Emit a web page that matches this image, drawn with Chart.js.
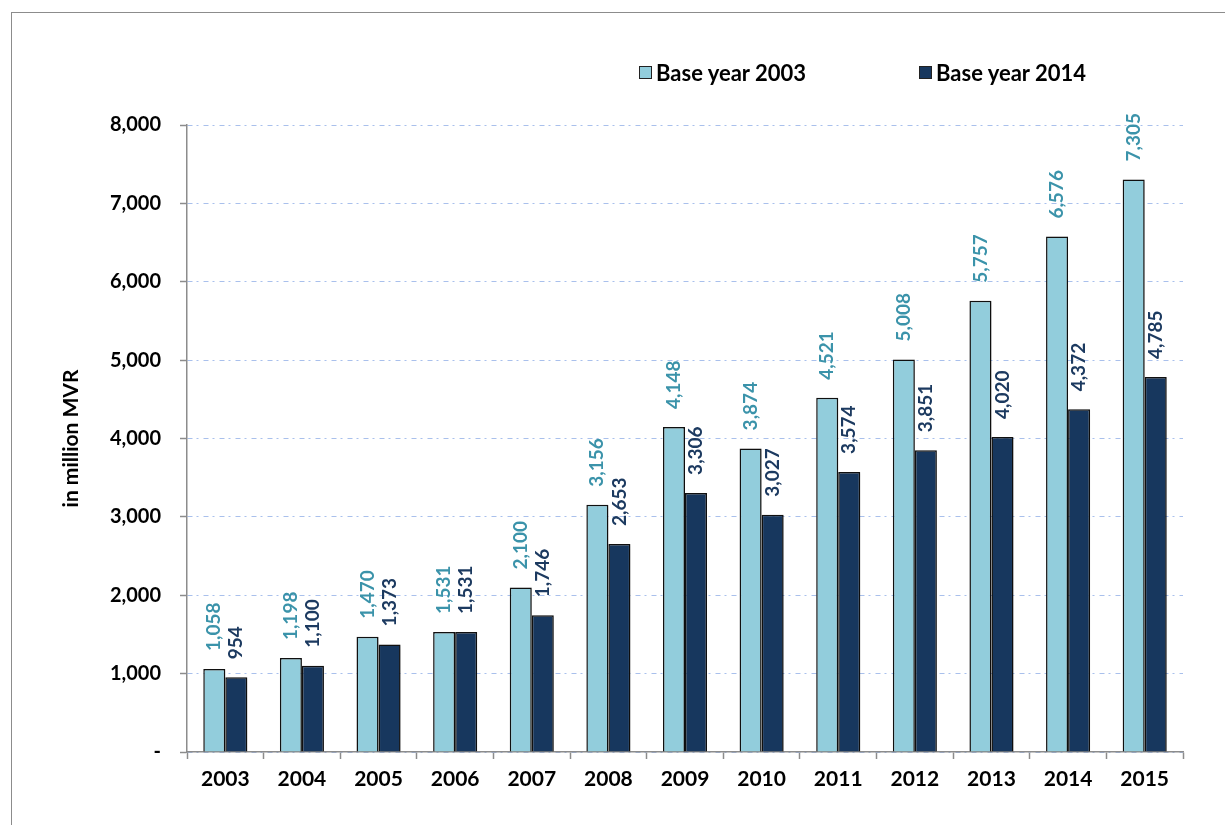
<!DOCTYPE html>
<html>
<head>
<meta charset="utf-8">
<script src="https://cdn.jsdelivr.net/npm/chart.js@4/dist/chart.umd.min.js"></script>
<style>
    html, body { margin: 0; padding: 0; background: #fff; }
    #wrap { position: relative; width: 1225px; height: 825px; overflow: hidden; }
    #frame {
        position: absolute; left: 11px; top: 12px; width: 1300px; height: 900px;
        border-left: 1px solid #8c8c8c; border-top: 1px solid #8c8c8c;
    }
    canvas { position: absolute; left: 0; top: 0; }
    .legend {
        position: absolute; top: 59px; height: 26px;
        font: bold 22px Lato, sans-serif; color: #000;
        display: flex; align-items: center; white-space: nowrap;
    }
    .legend .box {
        display: inline-block; width: 11px; height: 11px; margin-right: 4px;
        border: 1px solid #222;
    }
</style>
</head>
<body>
<div id="wrap">
    <div id="frame"></div>
    <canvas id="chart" width="1225" height="825"></canvas>
    <div class="legend" id="leg1" style="left:639px"><span class="box"></span><span class="txt"></span></div>
    <div class="legend" id="leg2" style="left:919px"><span class="box"></span><span class="txt"></span></div>
</div>
<script>
// Nominal values, in million MVR
const years = ['2003', '2004', '2005', '2006', '2007', '2008', '2009', '2010', '2011', '2012', '2013', '2014', '2015'];
const base2003 = [1058, 1198, 1470, 1531, 2100, 3156, 4148, 3874, 4521, 5008, 5757, 6576, 7305];
const base2014 = [954, 1100, 1373, 1531, 1746, 2653, 3306, 3027, 3574, 3851, 4020, 4372, 4785];
const seriesNames = ['Base year 2003', 'Base year 2014'];
const yTicks = [0, 1000, 2000, 3000, 4000, 5000, 6000, 7000, 8000];

const LIGHT = '#92cddc';
const DARK = '#17375e';
const LABEL_COLORS = ['#3b93aa', '#1c3a60'];
const FONT = 'Lato, sans-serif';

// html legend
[[ 'leg1', LIGHT ], [ 'leg2', DARK ]].forEach(([id, color], i) => {
    const el = document.getElementById(id);
    el.querySelector('.box').style.background = color;
    el.querySelector('.txt').innerText = seriesNames[i];
});

const fmt = v => v.toLocaleString('en-US');

// vertical value labels above each bar
const barLabels = {
    id: 'barLabels',
    afterDatasetsDraw(chart) {
        const ctx = chart.ctx;
        ctx.save();
        ctx.font = 'bold 19px ' + FONT;
        ctx.textAlign = 'left';
        ctx.textBaseline = 'middle';
        chart.data.datasets.forEach((ds, di) => {
            const meta = chart.getDatasetMeta(di);
            ctx.fillStyle = LABEL_COLORS[di];
            meta.data.forEach((bar, i) => {
                ctx.save();
                ctx.translate(bar.x, bar.y - 18);
                ctx.rotate(-Math.PI / 2);
                ctx.fillText(fmt(ds.data[i]), 0, 0);
                ctx.restore();
            });
        });
        ctx.restore();
    }
};

// soft shadow on bars
const barShadow = {
    id: 'barShadow',
    beforeDatasetsDraw(chart) {
        const ctx = chart.ctx;
        ctx.save();
        ctx.shadowColor = 'rgba(0,0,0,0.22)';
        ctx.shadowBlur = 3;
        ctx.shadowOffsetX = 2;
        ctx.shadowOffsetY = 1;
    },
    afterDatasetsDraw(chart) {
        chart.ctx.restore();
    }
};

new Chart(document.getElementById('chart'), {
    type: 'bar',
    data: {
        labels: years,
        datasets: [
            {
                label: seriesNames[0],
                data: base2003,
                backgroundColor: LIGHT,
                borderColor: '#111',
                borderWidth: 1.5,
                categoryPercentage: 0.575,
                barPercentage: 1
            },
            {
                label: seriesNames[1],
                data: base2014,
                backgroundColor: DARK,
                borderColor: '#111',
                borderWidth: 1.5,
                categoryPercentage: 0.575,
                barPercentage: 1
            }
        ]
    },
    options: {
        responsive: false,
        animation: false,
        layout: { padding: { left: 0, top: 125, right: 42, bottom: 0 } },
        plugins: {
            legend: { display: false },
            tooltip: { enabled: false }
        },
        scales: {
            x: {
                afterFit(scale) { scale.height = 73; },
                border: { color: '#8c8c8c', width: 1.5 },
                grid: {
                    drawOnChartArea: false,
                    tickLength: 7,
                    tickColor: '#8c8c8c',
                    tickWidth: 1.5,
                    offset: true
                },
                ticks: {
                    color: '#000',
                    font: { family: FONT, size: 21, weight: 'bold' },
                    padding: 8,
                    maxRotation: 0
                }
            },
            y: {
                min: 0,
                max: 8000,
                afterFit(scale) { scale.width = 187; },
                afterBuildTicks(scale) { scale.ticks = yTicks.map(v => ({ value: v })); },
                border: { color: '#8c8c8c', width: 1.5, dash: [5, 4, 2, 5] },
                grid: {
                    color: '#a9c0ec',
                    lineWidth: 1,
                    tickLength: 7,
                    tickColor: '#8c8c8c',
                    tickWidth: 1.5,
                    tickBorderDash: []
                },
                ticks: {
                    color: '#000',
                    font: { family: FONT, size: 20, weight: 'bold' },
                    padding: 19,
                    callback: v => v === 0 ? '-' : fmt(v)
                },
                title: {
                    display: true,
                    text: 'in million MVR',
                    color: '#000',
                    font: { family: FONT, size: 21, weight: 'bold' },
                    padding: { top: 59, bottom: 0 }
                }
            }
        }
    },
    plugins: [barShadow, barLabels]
});
</script>
</body>
</html>
